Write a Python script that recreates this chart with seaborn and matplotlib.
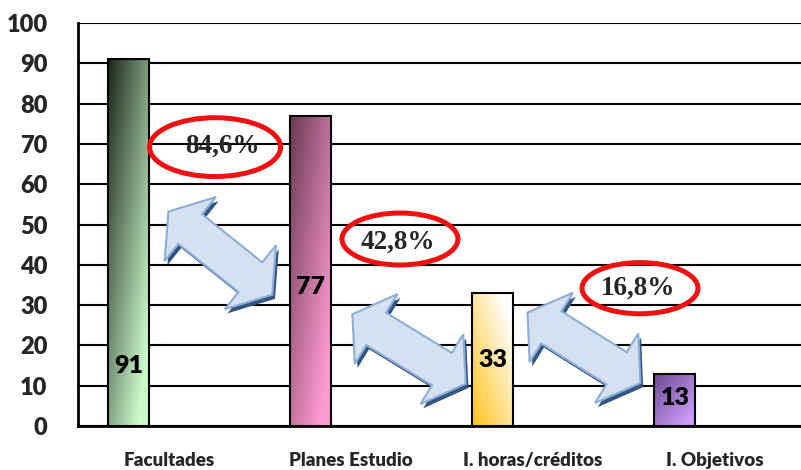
import numpy as np
import pandas as pd
import matplotlib
matplotlib.use('Agg')
import matplotlib.pyplot as plt
import seaborn as sns
from matplotlib.colors import LinearSegmentedColormap
from matplotlib.patches import Ellipse, Polygon
import matplotlib.patheffects as pe

# Data
categories = ['Facultades', 'Planes Estudio', 'I. horas/créditos', 'I. Objetivos']
values = [91, 77, 33, 13]
pct_labels = ['84,6%', '42,8%', '16,8%']

df = pd.DataFrame({'categoria': categories, 'valor': values})

sns.set_style('white')
plt.rcParams['font.family'] = ['Lato', 'DejaVu Sans']

fig = plt.figure(figsize=(8.01, 4.70), dpi=100)
ax = fig.add_axes([78 / 801, 1 - 426 / 470, 1 - 78 / 801, (426 - 23) / 470])

sns.barplot(data=df, x='categoria', y='valor', order=categories, width=0.225,
            color='white', edgecolor='black', linewidth=1.5, ax=ax, zorder=3)

# gradient fills: (dark corner colour, light corner colour, dark corner at top?)
grads = [('#1c261c', '#cbf9cb', True),
         ('#6a3a54', '#ff9bd2', True),
         ('#ffc21c', '#ffffff', False),
         ('#6a4890', '#cc9cf8', True)]

gx, gy = np.meshgrid(np.linspace(0, 1, 60), np.linspace(0, 1, 200))
bars = list(ax.patches)
for p, (c0, c1, top) in zip(bars, grads):
    p.set_x(p.get_x() - 0.22)
    p.set_facecolor('none')
    x0, w, h = p.get_x(), p.get_width(), p.get_height()
    if top:
        t = np.clip(0.55 * gx + 0.6 * gy, 0, 1)
    else:
        t = np.clip(0.55 * gx + 0.6 * (1 - gy), 0, 1)
    cmap = LinearSegmentedColormap.from_list('g', [c0, c1])
    im = ax.imshow(t, cmap=cmap, vmin=0, vmax=1, extent=[x0, x0 + w, 0, h],
                   origin='upper', aspect='auto', zorder=2)
    im.set_clip_path(p)

ax.set_xlim(-0.5, -0.5 + 723 / 182)
ax.set_ylim(0, 100)

# value labels inside bars
label_y = [15, 34.5, 16.5, 7]
for p, v, ly in zip(bars, values, label_y):
    ax.text(p.get_x() + p.get_width() / 2, ly, str(v), ha='center', va='center',
            fontsize=18, fontweight='heavy', color='black', zorder=6)

# axes styling
ax.set_xlabel('')
ax.set_ylabel('')
ax.set_yticks(range(0, 101, 10))
ax.yaxis.grid(True, color='black', linewidth=1.5)
ax.set_axisbelow(True)
for s in ['top', 'right']:
    ax.spines[s].set_visible(False)
for s in ['left', 'bottom']:
    ax.spines[s].set_color('black')
    ax.spines[s].set_linewidth(2)
ax.tick_params(axis='y', length=7, width=1.5, color='black', pad=15,
               labelsize=17)
ax.set_xticks(range(len(categories)))
ax.set_xticklabels(categories)
ax.set_xticks([-0.5, 0.5, 1.5, 2.5], minor=True)
ax.tick_params(axis='x', which='major', length=0, pad=19, labelsize=13.5)
ax.tick_params(axis='x', which='minor', length=6, width=1.5, color='black')
for lab in ax.get_xticklabels() + ax.get_yticklabels():
    lab.set_fontweight('heavy')

# percentage ellipses
ell_xy = [(0.253, 69.2), (1.269, 46.4), (2.588, 34.2)]
ell_wh = [(0.72, 14.6), (0.637, 12.9), (0.637, 12.7)]
txt_xy = [(0.291, 69.5), (1.258, 45.7), (2.577, 34.2)]
for (ex, ey), (ew, eh), (tx, ty), lab in zip(ell_xy, ell_wh, txt_xy, pct_labels):
    ax.add_patch(Ellipse((ex, ey), ew, eh, fc='none', ec='#f01010', lw=3.6,
                         zorder=7))
    ax.text(tx, ty, lab, ha='center', va='center', fontsize=19.5,
            fontweight='bold', family='Liberation Serif', zorder=8)

# double block arrows (centre, angle in degrees)
arrow_c = [(0.282, 42.9), (1.319, 19.1), (2.280, 19.4)]
arrow_ang = [-38.7, -31.5, -32.0]
L, hl, H, S = 133, 28, 41, 19
inv = ax.transData.inverted()
for c, angd in zip(arrow_c, arrow_ang):
    ang = np.deg2rad(angd)
    u = np.array([np.cos(ang), np.sin(ang)])
    n = np.array([-u[1], u[0]])
    a = L / 2
    local = [(-a, 0), (-a + hl, H), (-a + hl, S), (a - hl, S), (a - hl, H),
             (a, 0), (a - hl, -H), (a - hl, -S), (-a + hl, -S), (-a + hl, -H)]
    cd = ax.transData.transform(c)
    pts = [cd + s * u + t * n for s, t in local]
    poly = Polygon(inv.transform(pts), closed=True, fc='#d5e1f1', ec='#8caed8',
                   lw=1.5, zorder=9)
    poly.set_path_effects([pe.SimplePatchShadow(offset=(2, -3),
                                                shadow_rgbFace='#34557f',
                                                alpha=1.0),
                           pe.Normal()])
    ax.add_patch(poly)

fig.savefig('out.png', dpi=100)
